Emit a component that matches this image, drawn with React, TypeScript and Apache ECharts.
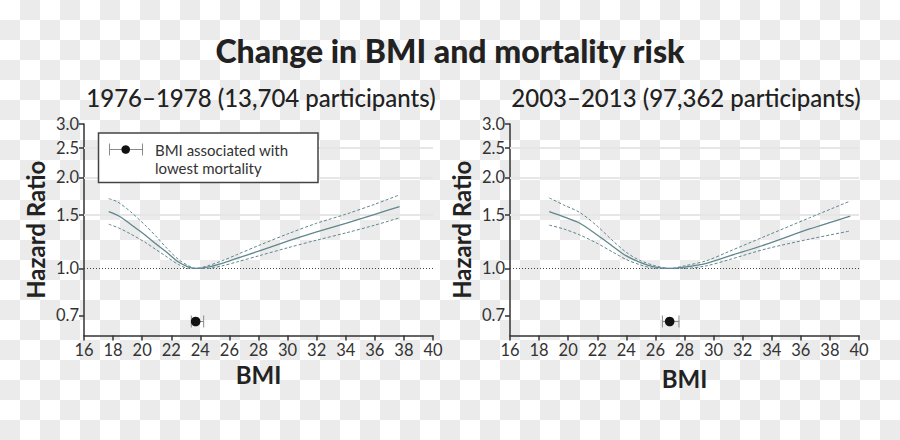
import React, { useEffect, useRef } from "react";
import * as echarts from "echarts";

const TITLE = "Change in BMI and mortality risk";
const SUBTITLES = ["1976–1978 (13,704 participants)", "2003–2013 (97,362 participants)"];
const Y_NAME = "Hazard Ratio";
const X_NAME = "BMI";
const LEGEND_LINES = ["BMI associated with", "lowest mortality"];

const X_MIN = 16;
const X_MAX = 40;
const X_STEP = 2;
const Y_MIN = 0.6;
const Y_MAX = 3.0;
const Y_TICKS = [0.7, 1.0, 1.5, 2.0, 2.5, 3.0];
const Y_GRIDLINES = [1.5, 2.0, 2.5, 3.0];
const Y_REF = 1.0;

// Panel 1: 1976–1978
const L_CENTER: [number, number][] = [
  [17.7, 1.54], [18.4, 1.49], [19.2, 1.4], [20.2, 1.29], [21.0, 1.2], [21.6, 1.14],
  [22.5, 1.05], [23.2, 1.01], [23.7, 1.0], [24.5, 1.01], [25.5, 1.04], [26.5, 1.08],
  [28.0, 1.14], [30.0, 1.23], [32.0, 1.32], [34.0, 1.41], [36.0, 1.51], [37.7, 1.6],
];
const L_UPPER: [number, number][] = [
  [17.7, 1.7], [18.3, 1.66], [19.2, 1.54], [20.2, 1.39], [21.0, 1.27], [21.6, 1.18],
  [22.5, 1.07], [23.2, 1.02], [23.7, 1.0], [24.5, 1.02], [25.5, 1.06], [26.5, 1.11],
  [28.0, 1.19], [30.0, 1.3], [32.0, 1.41], [34.0, 1.51], [36.0, 1.63], [37.7, 1.75],
];
const L_LOWER: [number, number][] = [
  [17.7, 1.4], [18.4, 1.36], [19.2, 1.3], [20.2, 1.22], [21.0, 1.15], [21.6, 1.1],
  [22.5, 1.03], [23.2, 1.0], [23.7, 1.0], [24.5, 1.0], [25.5, 1.02], [26.5, 1.05],
  [28.0, 1.1], [30.0, 1.17], [32.0, 1.24], [34.0, 1.31], [36.0, 1.39], [37.7, 1.47],
];
// [bmi, low, high, plotted HR]
const L_OPTIMUM = [23.68, 23.38, 24.23, 0.668];

// Panel 2: 2003–2013
const R_CENTER: [number, number][] = [
  [18.7, 1.54], [19.7, 1.48], [20.8, 1.41], [22.0, 1.29], [23.1, 1.18], [24.0, 1.1],
  [24.9, 1.05], [26.0, 1.01], [27.0, 1.0], [28.0, 1.01], [29.5, 1.04], [31.1, 1.1],
  [33.6, 1.2], [36.6, 1.35], [39.4, 1.49],
];
const R_UPPER: [number, number][] = [
  [18.7, 1.71], [19.7, 1.62], [20.8, 1.53], [22.0, 1.38], [23.1, 1.23], [24.0, 1.13],
  [24.9, 1.065], [26.0, 1.02], [27.0, 1.0], [28.0, 1.02], [29.5, 1.06], [31.1, 1.14],
  [33.6, 1.28], [36.6, 1.47], [39.4, 1.67],
];
const R_LOWER: [number, number][] = [
  [18.7, 1.39], [19.7, 1.35], [20.8, 1.29], [22.0, 1.21], [23.1, 1.13], [24.0, 1.07],
  [24.9, 1.03], [26.0, 1.0], [27.0, 1.0], [28.0, 1.0], [29.5, 1.02], [31.1, 1.07],
  [33.6, 1.16], [36.6, 1.25], [39.4, 1.33],
];
const R_OPTIMUM = [26.98, 26.48, 27.62, 0.668];

const FONT = "Lato, 'Noto Sans', sans-serif";
const INK = "#222";
const CURVE = "#5f878d";

const toLog = (pts: [number, number][]) => pts.map(([x, y]) => [x, Math.log(y)]);

function makeAxes(gi: number, xNameGap: number) {
  const xAxis = {
    type: "value",
    gridIndex: gi,
    min: X_MIN,
    max: X_MAX,
    interval: X_STEP,
    name: X_NAME,
    nameLocation: "middle",
    nameGap: xNameGap,
    nameTextStyle: { fontFamily: FONT, fontSize: 24, fontWeight: "bold", color: INK },
    axisLine: { show: true, onZero: false, lineStyle: { color: "#333", width: 1.5 } },
    axisTick: { show: true, length: 5, lineStyle: { color: "#333", width: 1.5 } },
    axisLabel: { fontFamily: FONT, fontSize: 16.5, color: "#333", margin: 6 },
    splitLine: { show: false },
  };
  const logTicks = Y_TICKS.map((v) => Math.log(v));
  const yAxis = {
    type: "value",
    gridIndex: gi,
    min: Math.log(Y_MIN),
    max: Math.log(Y_MAX),
    name: Y_NAME,
    nameLocation: "middle",
    nameGap: 37,
    nameTextStyle: { fontFamily: FONT, fontSize: 24, fontWeight: "bold", color: INK },
    axisLine: { show: true, onZero: false, lineStyle: { color: "#333", width: 1.5 } },
    axisTick: { show: true, length: 5, customValues: logTicks, lineStyle: { color: "#333", width: 1.5 } },
    axisLabel: {
      customValues: logTicks,
      formatter: (v: number) => Math.exp(v).toFixed(1),
      fontFamily: FONT,
      fontSize: 16.5,
      color: "#333",
      margin: 5,
    },
    splitLine: { show: false },
  };
  return { xAxis, yAxis };
}

function curveSeries(gi: number, center: [number, number][], upper: [number, number][], lower: [number, number][]) {
  const base = { type: "line", xAxisIndex: gi, yAxisIndex: gi, symbol: "none", smooth: 0.3, silent: true };
  return [
    {
      ...base,
      data: toLog(upper),
      lineStyle: { color: CURVE, width: 1, type: [3, 2] },
      z: 3,
    },
    {
      ...base,
      data: toLog(lower),
      lineStyle: { color: CURVE, width: 1, type: [3, 2] },
      z: 3,
    },
    {
      ...base,
      data: toLog(center),
      lineStyle: { color: CURVE, width: 1.3 },
      z: 4,
      markLine: {
        silent: true,
        symbol: "none",
        label: { show: false },
        data: [
          ...Y_GRIDLINES.map((v) => ({ yAxis: Math.log(v), lineStyle: { color: "#e6e6e6", width: 2, type: "solid" } })),
          { yAxis: Math.log(Y_REF), lineStyle: { color: "#444", width: 1, type: [1, 2] } },
        ],
        z: 1,
      },
    },
  ];
}

function optimumSeries(gi: number, d: number[]) {
  return {
    type: "custom",
    xAxisIndex: gi,
    yAxisIndex: gi,
    silent: true,
    z: 5,
    data: [[d[0], d[1], d[2], Math.log(d[3])]],
    renderItem: (params: any, api: any) => {
      const c = api.coord([api.value(0), api.value(3)]);
      const lo = api.coord([api.value(1), api.value(3)]);
      const hi = api.coord([api.value(2), api.value(3)]);
      const h = 6;
      const ls = { stroke: "#8a8a8a", lineWidth: 1 };
      return {
        type: "group",
        children: [
          { type: "line", shape: { x1: lo[0], y1: c[1], x2: hi[0], y2: c[1] }, style: ls },
          { type: "line", shape: { x1: lo[0], y1: c[1] - h, x2: lo[0], y2: c[1] + h }, style: ls },
          { type: "line", shape: { x1: hi[0], y1: c[1] - h, x2: hi[0], y2: c[1] + h }, style: ls },
          { type: "circle", shape: { cx: c[0], cy: c[1], r: 4.8 }, style: { fill: "#111" } },
        ],
      };
    },
  };
}

export default function App() {
  const ref = useRef<HTMLDivElement>(null);
  useEffect(() => {
    if (!ref.current) return;
    const chart = echarts.init(ref.current, null, { renderer: "svg" });
    const a0 = makeAxes(0, 27);
    const a1 = makeAxes(1, 31);
    const legendY = 149.5;
    const option = {
      animation: false,
      backgroundColor: "transparent",
      grid: [
        { left: 84, top: 124, width: 349, height: 211.6 },
        { left: 510, top: 124, width: 349, height: 211.6 },
      ],
      xAxis: [a0.xAxis, a1.xAxis],
      yAxis: [a0.yAxis, a1.yAxis],
      series: [
        ...curveSeries(0, L_CENTER, L_UPPER, L_LOWER),
        ...curveSeries(1, R_CENTER, R_UPPER, R_LOWER),
        optimumSeries(0, L_OPTIMUM),
        optimumSeries(1, R_OPTIMUM),
      ],
      graphic: [
        {
          type: "text",
          x: 450,
          y: 50,
          style: { text: TITLE, font: `900 32px ${FONT}`, fill: INK, textAlign: "center", textVerticalAlign: "middle" },
        },
        {
          type: "text",
          x: 261,
          y: 97,
          style: { text: SUBTITLES[0], font: `500 24px ${FONT}`, fill: INK, textAlign: "center", textVerticalAlign: "middle" },
        },
        {
          type: "text",
          x: 686,
          y: 97,
          style: { text: SUBTITLES[1], font: `500 24px ${FONT}`, fill: INK, textAlign: "center", textVerticalAlign: "middle" },
        },
        {
          type: "rect",
          shape: { x: 98.5, y: 133, width: 219.5, height: 49.5 },
          style: { fill: "#fff", stroke: "#444", lineWidth: 1.5 },
          z: 10,
        },
        {
          type: "line",
          shape: { x1: 109.5, y1: legendY, x2: 142.5, y2: legendY },
          style: { stroke: "#8a8a8a", lineWidth: 1 },
          z: 11,
        },
        {
          type: "line",
          shape: { x1: 109.5, y1: legendY - 6, x2: 109.5, y2: legendY + 6 },
          style: { stroke: "#8a8a8a", lineWidth: 1 },
          z: 11,
        },
        {
          type: "line",
          shape: { x1: 142.5, y1: legendY - 6, x2: 142.5, y2: legendY + 6 },
          style: { stroke: "#8a8a8a", lineWidth: 1 },
          z: 11,
        },
        {
          type: "circle",
          shape: { cx: 125.7, cy: legendY, r: 4.3 },
          style: { fill: "#111" },
          z: 11,
        },
        {
          type: "text",
          x: 155,
          y: legendY,
          style: { text: LEGEND_LINES[0], font: `15px ${FONT}`, fill: "#333", textAlign: "left", textVerticalAlign: "middle" },
          z: 11,
        },
        {
          type: "text",
          x: 155,
          y: 168,
          style: { text: LEGEND_LINES[1], font: `15px ${FONT}`, fill: "#333", textAlign: "left", textVerticalAlign: "middle" },
          z: 11,
        },
      ],
    };
    chart.setOption(option as any);
    return () => chart.dispose();
  }, []);

  return (
    <div
      style={{
        position: "absolute",
        left: 0,
        top: 0,
        width: 900,
        height: 440,
        backgroundColor: "#ffffff",
        backgroundImage:
          "conic-gradient(#ebebeb 0 25%, transparent 0 50%, #ebebeb 0 75%, transparent 0)",
        backgroundSize: "40px 40px",
      }}
    >
      <div ref={ref} style={{ width: 900, height: 440 }} />
    </div>
  );
}
